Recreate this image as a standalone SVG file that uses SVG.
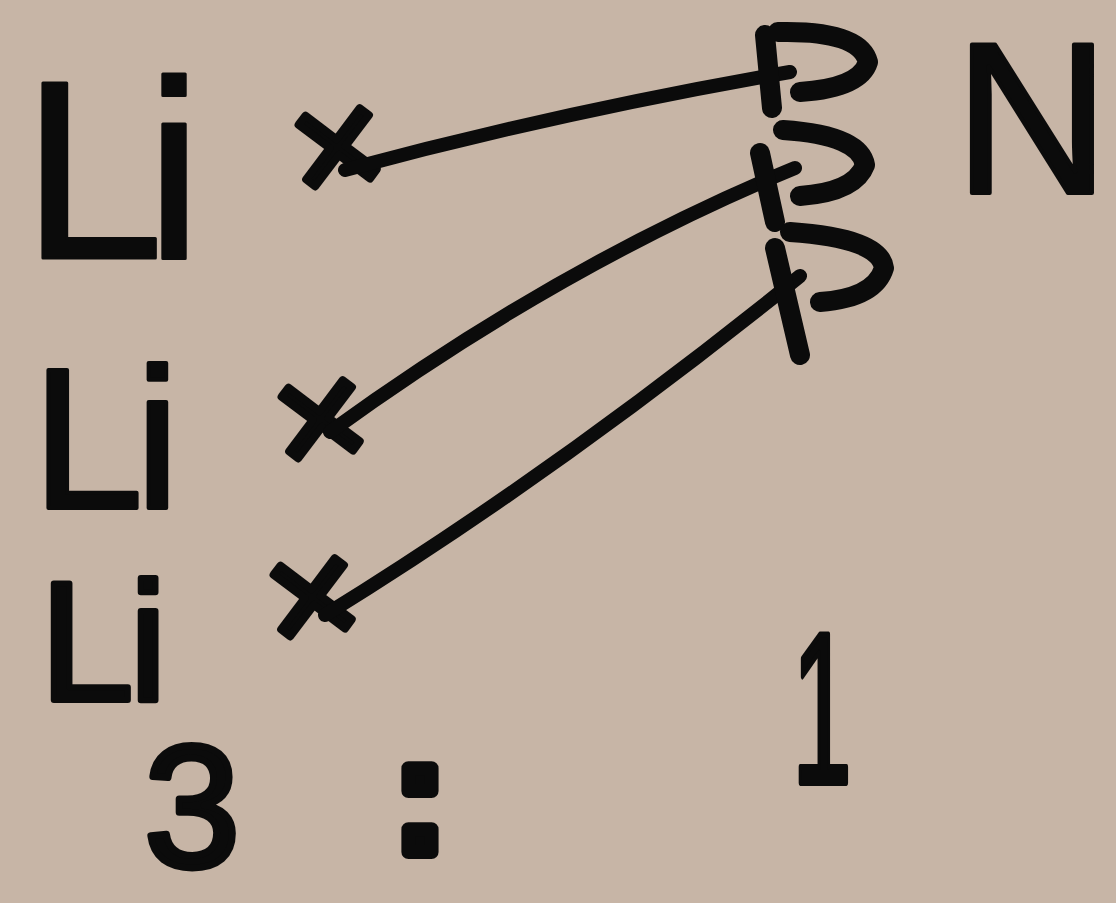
<svg xmlns="http://www.w3.org/2000/svg" width="1116" height="903" viewBox="0 0 1116 903">
<style>
.t{font-family:"Liberation Sans",Arial,sans-serif;fill:#0b0b0b;stroke:#0b0b0b;stroke-linejoin:round}
.ln{fill:none;stroke:#0b0b0b;stroke-width:14;stroke-linecap:round}
.hd{fill:none;stroke:#0b0b0b;stroke-width:20;stroke-linecap:round;stroke-linejoin:round}
</style>
<rect width="1116" height="903" fill="#c7b5a6"/>
<g id="li1"><text class="t" x="22" y="258" font-size="255" letter-spacing="-18" stroke-width="3">Li</text></g>
<g id="li2"><text class="t" x="32" y="508" font-size="200" letter-spacing="-8" stroke-width="4">Li</text></g>
<g id="li3"><text class="t" x="40" y="700" font-size="168" letter-spacing="-4" stroke-width="6">Li</text></g>
<g id="x1"><text class="t" transform="translate(345,200) rotate(-8)" font-size="160" text-anchor="middle" stroke-width="8">×</text></g>
<g id="x2"><text class="t" transform="translate(328,472) rotate(-8)" font-size="160" text-anchor="middle" stroke-width="8">×</text></g>
<g id="x3"><text class="t" transform="translate(320,650) rotate(-8)" font-size="160" text-anchor="middle" stroke-width="8">×</text></g>
<g id="n"><text class="t" x="1032" y="193" font-size="215" text-anchor="middle" stroke-width="4">N</text></g>
<g id="three"><text class="t" x="192" y="866" font-size="172" text-anchor="middle" stroke-width="7">3</text></g>
<g id="colon"><text class="t" x="420" y="852" font-size="165" text-anchor="middle" font-weight="bold" stroke-width="14">:</text></g>
<g id="one"><text class="t" transform="translate(822,783) scale(0.5,1)" font-size="215" text-anchor="middle" stroke-width="6">1</text></g>
<g id="connectors">
<path class="ln" d="M345,170 Q560,112 790,72"/>
<path class="hd" d="M765,35 L772,108 M778,32 Q860,30 868,62 Q860,88 800,92"/>
<path class="ln" d="M330,432 Q560,265 795,168"/>
<path class="hd" d="M760,153 L775,222 M783,130 Q860,135 865,165 Q855,192 800,196"/>
<path class="ln" d="M325,615 Q560,470 800,276"/>
<path class="hd" d="M775,248 L800,355 M790,232 Q880,238 884,268 Q875,298 820,302"/>
</g>
</svg>
